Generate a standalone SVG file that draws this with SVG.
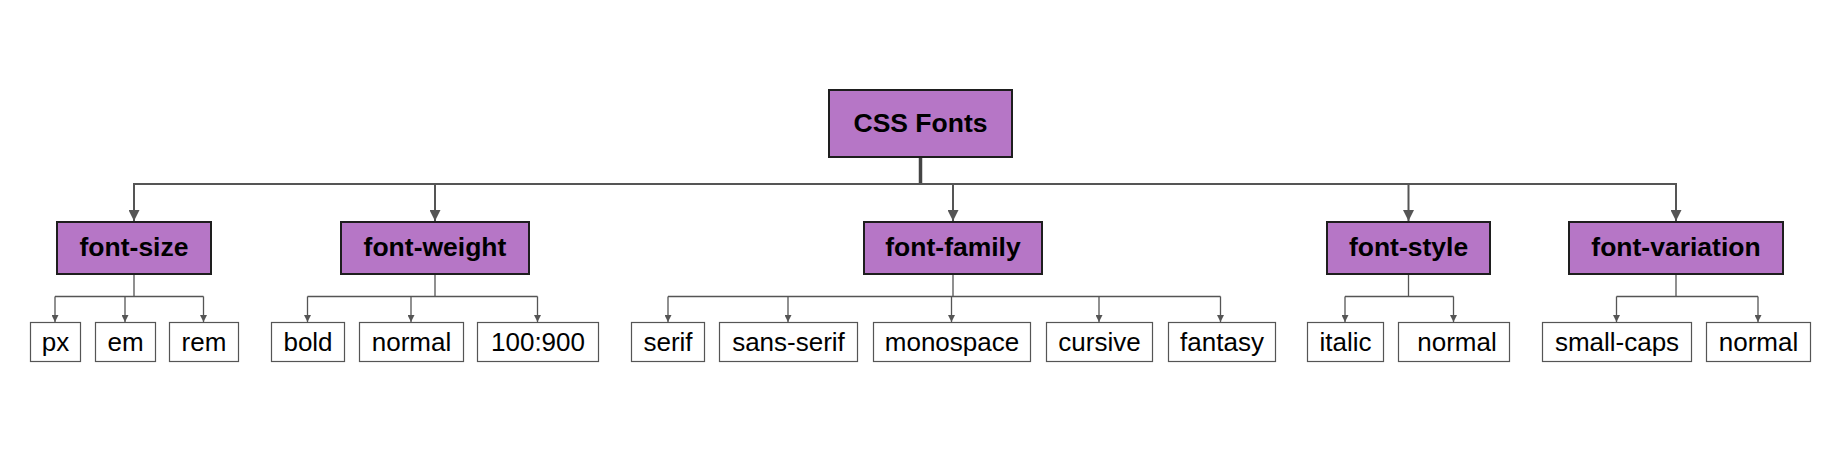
<svg xmlns="http://www.w3.org/2000/svg" width="1848" height="472" viewBox="0 0 1848 472">
<style>
.bg{fill:#ffffff}
.p rect{fill:#B676C6;stroke:#1e1e1e;stroke-width:2}
.p text{font-family:"Liberation Sans",Arial,sans-serif;font-weight:bold;font-size:26.5px;fill:#000;text-anchor:middle}
.c rect{fill:#ffffff;stroke:#555555;stroke-width:1.2}
.c text{font-family:"Liberation Sans",Arial,sans-serif;font-size:26px;fill:#000;text-anchor:middle}
.big{fill:none;stroke:#555555;stroke-width:2}
.thick{fill:none;stroke:#444444;stroke-width:3.5}
.thin{fill:none;stroke:#555555;stroke-width:1.3}
</style>
<defs>
<marker id="ab" viewBox="0 0 10 10" refX="10" refY="5" markerWidth="11" markerHeight="11" markerUnits="userSpaceOnUse" orient="auto">
<path d="M0,0 L10,5 L0,10 Z" fill="#555555"/>
</marker>
<marker id="as" viewBox="0 0 10 10" refX="10" refY="5" markerWidth="7" markerHeight="7" markerUnits="userSpaceOnUse" orient="auto">
<path d="M0,0 L10,5 L0,10 Z" fill="#555555"/>
</marker>
</defs>
<rect class="bg" x="0" y="0" width="1848" height="472"/>

<g id="connectors">
<path class="thick" d="M920.5,157 V184"/>
<path class="big" d="M134,221 V184 H1676 V221"/>
<path class="big" d="M435,184 V221" marker-end="url(#ab)"/>
<path class="big" d="M953,184 V221" marker-end="url(#ab)"/>
<path class="big" d="M1408.5,184 V221" marker-end="url(#ab)"/>
<path class="big" d="M134,184 V221" marker-end="url(#ab)"/>
<path class="big" d="M1676,184 V221" marker-end="url(#ab)"/>

<path class="thin" d="M134,274 V296.5 M55,296.5 H203.5"/>
<path class="thin" d="M55,296.5 V322" marker-end="url(#as)"/>
<path class="thin" d="M125,296.5 V322" marker-end="url(#as)"/>
<path class="thin" d="M203.5,296.5 V322" marker-end="url(#as)"/>

<path class="thin" d="M435,274 V296.5 M307.5,296.5 H537.5"/>
<path class="thin" d="M307.5,296.5 V322" marker-end="url(#as)"/>
<path class="thin" d="M411,296.5 V322" marker-end="url(#as)"/>
<path class="thin" d="M537.5,296.5 V322" marker-end="url(#as)"/>

<path class="thin" d="M953,274 V296.5 M668,296.5 H1220.5"/>
<path class="thin" d="M668,296.5 V322" marker-end="url(#as)"/>
<path class="thin" d="M788,296.5 V322" marker-end="url(#as)"/>
<path class="thin" d="M951.5,296.5 V322" marker-end="url(#as)"/>
<path class="thin" d="M1099,296.5 V322" marker-end="url(#as)"/>
<path class="thin" d="M1220.5,296.5 V322" marker-end="url(#as)"/>

<path class="thin" d="M1408.5,274 V296.5 M1345,296.5 H1453.5"/>
<path class="thin" d="M1345,296.5 V322" marker-end="url(#as)"/>
<path class="thin" d="M1453.5,296.5 V322" marker-end="url(#as)"/>

<path class="thin" d="M1676,274 V296.5 M1616.5,296.5 H1758"/>
<path class="thin" d="M1616.5,296.5 V322" marker-end="url(#as)"/>
<path class="thin" d="M1758,296.5 V322" marker-end="url(#as)"/>
</g>

<g id="css-fonts" class="p"><rect x="829" y="90" width="183" height="67"/><text x="920.5" y="132">CSS Fonts</text></g>

<g id="font-size" class="p"><rect x="57" y="222" width="154" height="52"/><text x="134" y="256">font-size</text></g>
<g id="font-weight" class="p"><rect x="341" y="222" width="188" height="52"/><text x="435" y="256">font-weight</text></g>
<g id="font-family" class="p"><rect x="864" y="222" width="178" height="52"/><text x="953" y="256">font-family</text></g>
<g id="font-style" class="p"><rect x="1327" y="222" width="163" height="52"/><text x="1408.5" y="256">font-style</text></g>
<g id="font-variation" class="p"><rect x="1569" y="222" width="214" height="52"/><text x="1676" y="256">font-variation</text></g>

<g id="px" class="c"><rect x="30.5" y="322.5" width="50" height="39"/><text x="55.5" y="351">px</text></g>
<g id="em" class="c"><rect x="95.5" y="322.5" width="60" height="39"/><text x="125.5" y="351">em</text></g>
<g id="rem" class="c"><rect x="169.5" y="322.5" width="69" height="39"/><text x="204" y="351">rem</text></g>

<g id="bold" class="c"><rect x="271.5" y="322.5" width="73" height="39"/><text x="308" y="351">bold</text></g>
<g id="normal-weight" class="c"><rect x="359.5" y="322.5" width="104" height="39"/><text x="411.5" y="351">normal</text></g>
<g id="w100-900" class="c"><rect x="477.5" y="322.5" width="121" height="39"/><text x="538" y="351">100:900</text></g>

<g id="serif" class="c"><rect x="631.5" y="322.5" width="73" height="39"/><text x="668" y="351">serif</text></g>
<g id="sans-serif" class="c"><rect x="719.5" y="322.5" width="138" height="39"/><text x="788.5" y="351">sans-serif</text></g>
<g id="monospace" class="c"><rect x="873.5" y="322.5" width="157" height="39"/><text x="952" y="351">monospace</text></g>
<g id="cursive" class="c"><rect x="1046.5" y="322.5" width="106" height="39"/><text x="1099.5" y="351">cursive</text></g>
<g id="fantasy" class="c"><rect x="1168.5" y="322.5" width="107" height="39"/><text x="1222" y="351">fantasy</text></g>

<g id="italic" class="c"><rect x="1307.5" y="322.5" width="76" height="39"/><text x="1345.5" y="351">italic</text></g>
<g id="normal-style" class="c"><rect x="1398.5" y="322.5" width="111" height="39"/><text x="1457" y="351">normal</text></g>

<g id="small-caps" class="c"><rect x="1542.5" y="322.5" width="149" height="39"/><text x="1617" y="351">small-caps</text></g>
<g id="normal-variation" class="c"><rect x="1706.5" y="322.5" width="104" height="39"/><text x="1758.5" y="351">normal</text></g>
</svg>
